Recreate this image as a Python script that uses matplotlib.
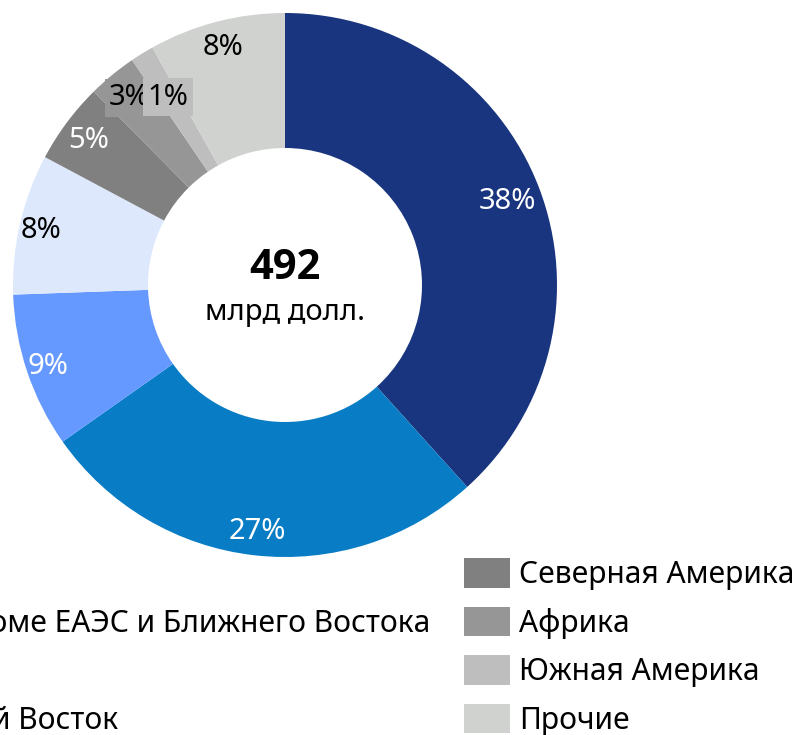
import matplotlib
matplotlib.use("Agg")
import matplotlib.pyplot as plt
import numpy as np

plt.rcParams['font.family'] = ['Noto Sans', 'DejaVu Sans']

# ---- data ----
regions = ["Китай", "Азия кроме ЕАЭС и Ближнего Востока", "ЕАЭС", "Ближний Восток",
           "Северная Америка", "Африка", "Южная Америка", "Прочие"]
shares = [38.3, 26.9, 9.2, 8.35, 4.8, 2.9, 1.4, 8.1]
pct_labels = ["38%", "27%", "9%", "8%", "5%", "3%", "1%", "8%"]
total_value = "492"
total_unit = "млрд долл."

# ---- styles ----
colors = ["#1a357f", "#087cc4", "#6699ff", "#dde8fc", "#808080", "#969696", "#bebebe", "#d0d2d0"]
label_colors = ["white", "white", "white", "black", "white", "black", "black", "black"]
label_boxes = [None, None, None, None, None, "#969696", "#bebebe", None]
label_dist = [0.875, 0.905, 0.92, 0.92, 0.90, 0.90, 0.82, 0.91]

W, H = 800, 735
fig = plt.figure(figsize=(W / 100, H / 100), dpi=100)
ax = fig.add_axes([0, 0, 1, 1])

cx, cy, R, ring = 285, H - 285, 272, 135
wedges, _ = ax.pie(shares, colors=colors, startangle=90, counterclock=False,
                   center=(cx, cy), radius=R, frame=True,
                   wedgeprops=dict(width=ring, linewidth=0))
ax.set_xlim(0, W)
ax.set_ylim(0, H)
ax.set_aspect('equal')
ax.axis('off')

for w, lab, col, box, d in zip(wedges, pct_labels, label_colors, label_boxes, label_dist):
    ang = np.deg2rad((w.theta1 + w.theta2) / 2)
    x = cx + d * R * np.cos(ang)
    y = cy + d * R * np.sin(ang) - 2
    kw = {}
    if box:
        kw['bbox'] = dict(boxstyle='square,pad=0.15', fc=box, ec='none')
    ax.text(x, y, lab, ha='center', va='center', fontsize=21, color=col, **kw)

ax.text(cx, cy + 17, total_value, ha='center', va='center', fontsize=30,
        fontweight='bold', family=['Open Sans', 'DejaVu Sans'], color='black')
ax.text(cx, cy - 27, total_unit, ha='center', va='center', fontsize=21, color='black')

leg = fig.legend(wedges, regions, ncol=2, loc='upper right',
                 bbox_to_anchor=(794 / W, 1 - 558 / H), frameon=False,
                 fontsize=21.6, handlelength=1.55, handleheight=1.15,
                 handletextpad=0.28, columnspacing=1.12, labelspacing=0.55,
                 borderpad=0, borderaxespad=0)

fig.savefig("out.png", dpi=100)
